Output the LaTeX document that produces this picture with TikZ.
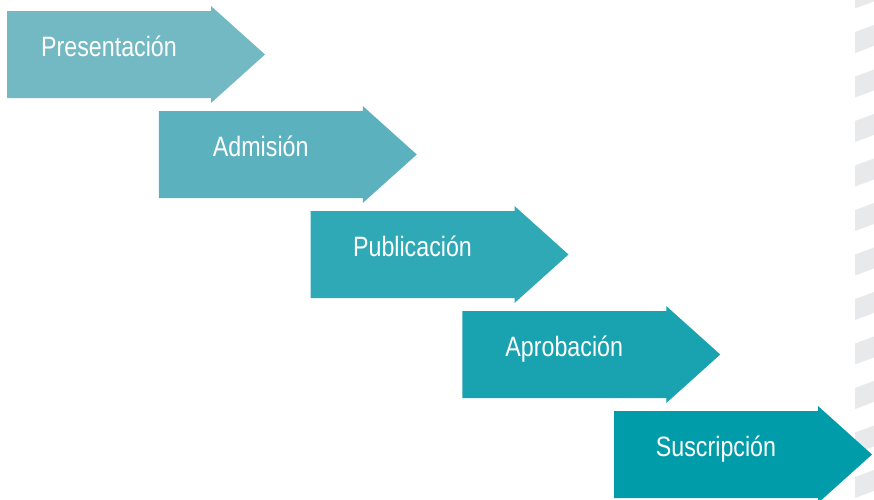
\documentclass[tikz,border=0pt]{standalone}
\usepackage{fontspec}
\setmainfont[FakeStretch=0.83]{Liberation Sans}
\usepackage{xcolor}
\usepackage{tikz}
\usetikzlibrary{calc}

\definecolor{fase1}{HTML}{72B9C4}
\definecolor{fase2}{HTML}{5BB2BE}
\definecolor{fase3}{HTML}{30A9B7}
\definecolor{fase4}{HTML}{19A2AF}
\definecolor{fase5}{HTML}{009CA9}
\definecolor{franjagris}{HTML}{E8E9EB}

\begin{document}
\begin{tikzpicture}[x=1pt,y=-1pt,
  rotulo/.style={text=white,anchor=base,inner sep=0pt,font=\fontsize{28}{30}\selectfont},
  franja/.style={fill=franjagris}]
\useasboundingbox (0,0) rectangle (874,499);

% Stripes
\foreach \k in {0,...,11}
  \fill[franja] (855,{-12.5+44.5*\k}) -- (874,{-19.5+44.5*\k}) -- (874,{1.5+44.5*\k}) -- (855,{8.5+44.5*\k}) -- cycle;

% Steps
\foreach \i/\txt in {1/Presentación,2/Admisión,3/Publicación,4/Aprobación,5/Suscripción}{
  \pgfmathsetmacro\xa{7+151.75*(\i-1)}
  \pgfmathsetmacro\ya{11+100*(\i-1)}
  \fill[fase\i] (\xa,\ya) -- ++(204,0) -- ++(0,-5) -- ++(54,48.5) -- ++(-54,48.5) -- ++(0,-5) -- ++(-204,0) -- cycle;
  \node[rotulo] (paso\i) at (\xa+102,\ya+45.7) {\txt};
}
\end{tikzpicture}
\end{document}
